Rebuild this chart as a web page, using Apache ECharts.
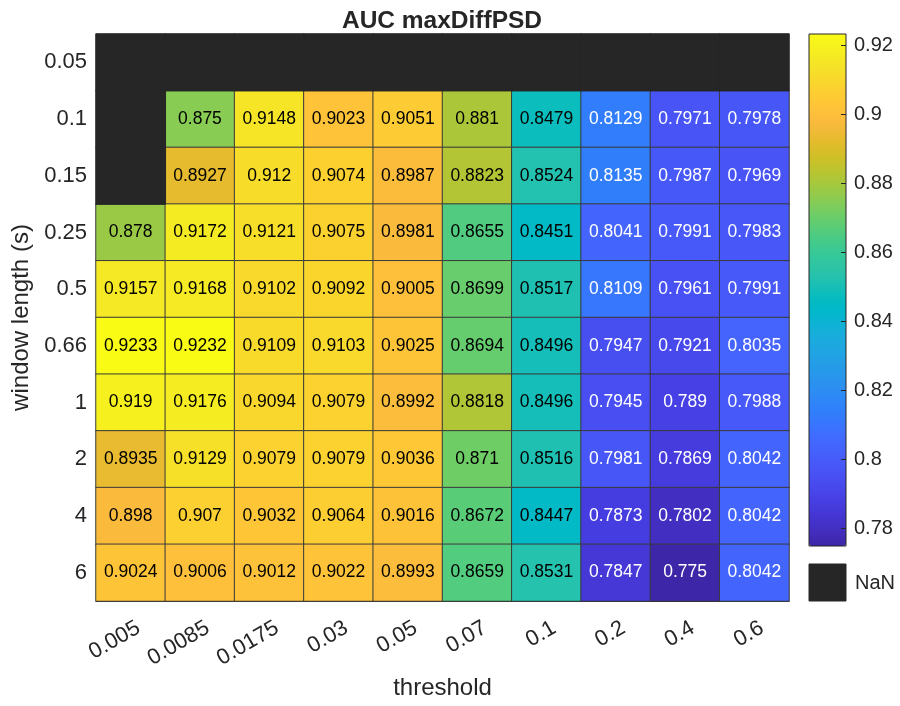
<!DOCTYPE html>
<html>
<head>
<meta charset="utf-8">
<script src="https://cdn.jsdelivr.net/npm/echarts@6/dist/echarts.min.js"></script>
<style>
html, body { margin: 0; padding: 0; background: #fff; }
#chart { width: 900px; height: 706px; }
</style>
</head>
<body>
<div id="chart"></div>
<script>
// data (null = NaN)
const thresholds = ['0.005', '0.0085', '0.0175', '0.03', '0.05', '0.07', '0.1', '0.2', '0.4', '0.6'];
const windowLengths = ['0.05', '0.1', '0.15', '0.25', '0.5', '0.66', '1', '2', '4', '6'];
const row005 = [null, null, null, null, null, null, null, null, null, null];
const row01  = [null, 0.875, 0.9148, 0.9023, 0.9051, 0.881, 0.8479, 0.8129, 0.7971, 0.7978];
const row015 = [null, 0.8927, 0.912, 0.9074, 0.8987, 0.8823, 0.8524, 0.8135, 0.7987, 0.7969];
const row025 = [0.878, 0.9172, 0.9121, 0.9075, 0.8981, 0.8655, 0.8451, 0.8041, 0.7991, 0.7983];
const row05  = [0.9157, 0.9168, 0.9102, 0.9092, 0.9005, 0.8699, 0.8517, 0.8109, 0.7961, 0.7991];
const row066 = [0.9233, 0.9232, 0.9109, 0.9103, 0.9025, 0.8694, 0.8496, 0.7947, 0.7921, 0.8035];
const row1   = [0.919, 0.9176, 0.9094, 0.9079, 0.8992, 0.8818, 0.8496, 0.7945, 0.789, 0.7988];
const row2   = [0.8935, 0.9129, 0.9079, 0.9079, 0.9036, 0.871, 0.8516, 0.7981, 0.7869, 0.8042];
const row4   = [0.898, 0.907, 0.9032, 0.9064, 0.9016, 0.8672, 0.8447, 0.7873, 0.7802, 0.8042];
const row6   = [0.9024, 0.9006, 0.9012, 0.9022, 0.8993, 0.8659, 0.8531, 0.7847, 0.775, 0.8042];
const rows = [row005, row01, row015, row025, row05, row066, row1, row2, row4, row6];
const colorTicks = [0.78, 0.8, 0.82, 0.84, 0.86, 0.88, 0.9, 0.92];
const cMin = 0.775, cMax = 0.9233;

// parula colormap
const parulaRGB = [
  [0.2422,0.1504,0.6603],[0.2504,0.1650,0.7076],[0.2578,0.1818,0.7511],[0.2647,0.1978,0.7952],
  [0.2706,0.2147,0.8364],[0.2751,0.2342,0.8710],[0.2783,0.2559,0.8991],[0.2803,0.2782,0.9221],
  [0.2813,0.3006,0.9414],[0.2810,0.3228,0.9579],[0.2795,0.3447,0.9717],[0.2760,0.3667,0.9829],
  [0.2699,0.3892,0.9906],[0.2602,0.4123,0.9952],[0.2440,0.4358,0.9988],[0.2206,0.4603,0.9973],
  [0.1963,0.4847,0.9892],[0.1834,0.5074,0.9798],[0.1786,0.5289,0.9682],[0.1764,0.5499,0.9520],
  [0.1687,0.5703,0.9359],[0.1540,0.5902,0.9218],[0.1460,0.6091,0.9079],[0.1380,0.6276,0.8973],
  [0.1248,0.6459,0.8883],[0.1113,0.6635,0.8763],[0.0952,0.6798,0.8598],[0.0689,0.6948,0.8394],
  [0.0297,0.7082,0.8163],[0.0036,0.7203,0.7917],[0.0067,0.7312,0.7660],[0.0433,0.7411,0.7394],
  [0.0964,0.7500,0.7120],[0.1408,0.7584,0.6842],[0.1717,0.7670,0.6554],[0.1938,0.7758,0.6251],
  [0.2161,0.7843,0.5923],[0.2470,0.7918,0.5567],[0.2906,0.7973,0.5188],[0.3406,0.8008,0.4789],
  [0.3909,0.8029,0.4354],[0.4456,0.8024,0.3909],[0.5044,0.7993,0.3480],[0.5616,0.7942,0.3045],
  [0.6174,0.7876,0.2612],[0.6720,0.7793,0.2227],[0.7242,0.7698,0.1910],[0.7738,0.7598,0.1646],
  [0.8203,0.7498,0.1535],[0.8634,0.7406,0.1596],[0.9035,0.7330,0.1774],[0.9393,0.7288,0.2100],
  [0.9728,0.7298,0.2394],[0.9956,0.7434,0.2371],[0.9970,0.7659,0.2199],[0.9952,0.7893,0.2028],
  [0.9892,0.8136,0.1885],[0.9786,0.8386,0.1766],[0.9676,0.8639,0.1643],[0.9610,0.8890,0.1537],
  [0.9597,0.9135,0.1423],[0.9628,0.9373,0.1265],[0.9691,0.9606,0.1064],[0.9769,0.9839,0.0805]
];
const parula = parulaRGB.map(c => 'rgb(' + c.map(v => Math.round(v * 255)).join(',') + ')');

const cellData = [];
const nanData = [];
rows.forEach((row, i) => {
  row.forEach((v, j) => {
    if (v === null) {
      nanData.push([j, i, 0]);
    } else {
      cellData.push({ value: [j, i, v], label: { color: v < 0.83 ? '#ffffff' : '#000000' } });
    }
  });
});

const font = 'Liberation Sans, Arial, Helvetica, sans-serif';
const txt = '#262626';

const chart = echarts.init(document.getElementById('chart'), null, { renderer: 'canvas' });
chart.setOption({
  animation: false,
  backgroundColor: '#ffffff',
  title: {
    text: 'AUC maxDiffPSD',
    left: 437,
    top: 4,
    textAlign: 'center',
    textStyle: { fontFamily: font, fontSize: 24.5, fontWeight: 'bold', color: txt }
  },
  grid: [
    { left: 96, top: 34, width: 693, height: 567, outerBoundsMode: 'none', containLabel: false },
    { left: 809, top: 34, width: 37, height: 512, outerBoundsMode: 'none', containLabel: false }
  ],
  xAxis: [{
    type: 'category',
    data: thresholds,
    gridIndex: 0,
    axisTick: { show: false },
    axisLine: { lineStyle: { color: txt } },
    axisLabel: { rotate: 30, margin: 30, padding: [0, -9, 0, 0], fontFamily: font, fontSize: 22, color: txt },
    name: 'threshold',
    nameLocation: 'middle',
    nameGap: 73,
    nameTextStyle: { fontFamily: font, fontSize: 24, color: txt }
  }, {
    type: 'category',
    data: ['c'],
    gridIndex: 1,
    show: false
  }],
  yAxis: [{
    type: 'category',
    data: windowLengths,
    inverse: true,
    gridIndex: 0,
    axisTick: { show: false },
    axisLine: { lineStyle: { color: txt } },
    axisLabel: { margin: 9, fontFamily: font, fontSize: 22, color: txt },
    name: 'window length (s)',
    nameLocation: 'middle',
    nameGap: 58,
    nameTextStyle: { fontFamily: font, fontSize: 24, color: txt }
  }, {
    type: 'value',
    gridIndex: 1,
    position: 'right',
    z: 20,
    min: cMin,
    max: cMax,
    axisLine: { show: false, onZero: false },
    splitLine: { show: false },
    axisTick: { show: true, inside: true, length: 5, customValues: colorTicks, lineStyle: { color: txt } },
    axisLabel: { customValues: colorTicks, margin: 8, fontFamily: font, fontSize: 20, color: txt,
      formatter: v => String(+v.toFixed(2)) }
  }],
  visualMap: {
    type: 'continuous',
    seriesIndex: 0,
    min: cMin,
    max: cMax,
    orient: 'vertical',
    left: 809,
    top: 34,
    padding: 0,
    itemWidth: 37,
    itemHeight: 512,
    calculable: false,
    hoverLink: false,
    text: null,
    inRange: { color: parula }
  },
  graphic: [
    { type: 'rect', z: 100, shape: { x: 809, y: 34, width: 37, height: 512 },
      style: { fill: 'none', stroke: txt, lineWidth: 1 } },
    { type: 'rect', z: 100, shape: { x: 809, y: 564, width: 37, height: 37 },
      style: { fill: '#262626', stroke: txt, lineWidth: 1 } },
    { type: 'text', z: 100, x: 855, y: 583,
      style: { text: 'NaN', fontFamily: font, fontSize: 20, fill: txt, verticalAlign: 'middle' } }
  ],
  series: [{
    type: 'heatmap',
    xAxisIndex: 0,
    yAxisIndex: 0,
    data: cellData,
    itemStyle: { borderColor: '#3a3a3a', borderWidth: 1 },
    label: { show: true, fontFamily: font, fontSize: 17.5, formatter: p => String(p.value[2]) },
    emphasis: { disabled: true }
  }, {
    type: 'heatmap',
    xAxisIndex: 0,
    yAxisIndex: 0,
    data: nanData,
    itemStyle: { color: '#262626', borderColor: '#262626', borderWidth: 1 },
    label: { show: false },
    emphasis: { disabled: true }
  }]
});
</script>
</body>
</html>
